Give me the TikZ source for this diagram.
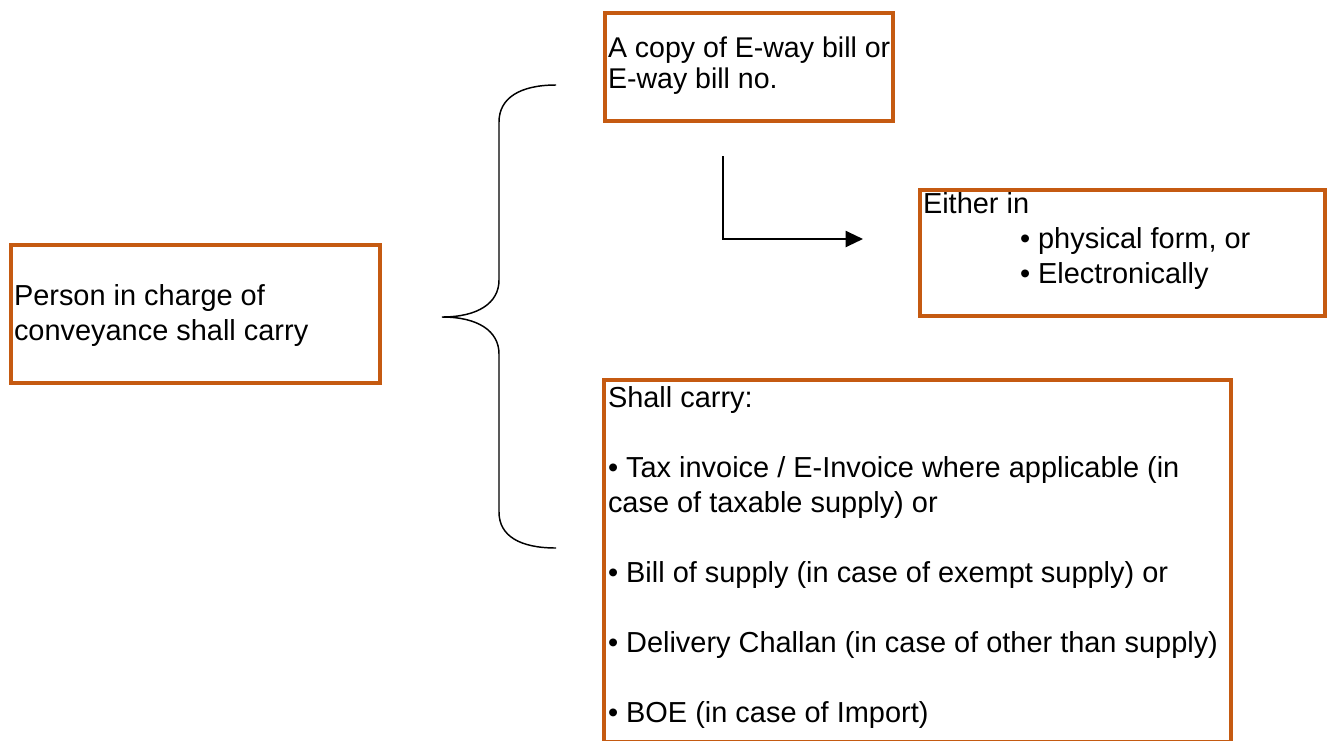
\documentclass[tikz,border=0pt]{standalone}
\usepackage{fontspec}
\setmainfont{Liberation Sans}
\usetikzlibrary{arrows.meta}
\definecolor{boxorange}{RGB}{197,90,17}
\begin{document}
\begin{tikzpicture}[x=0.75pt,y=-0.75pt,
  box/.style={draw=boxorange, line width=3pt, inner sep=0pt, outer sep=0pt, anchor=north west},
  txt/.style={anchor=base west, inner sep=0pt, outer sep=0pt, align=left,
              font=\fontsize{21.7}{26.25}\selectfont},
  bracepath/.style={draw=black, line width=1.1pt},
  arrowpath/.style={draw=black, line width=1.6pt, -{Triangle[length=13pt,width=12pt]}}]
\useasboundingbox (0,0) rectangle (1328,740);
\clip (0,0) rectangle (1328,740);
% boxes
\node[box, minimum width={368.5*0.75pt}, minimum height={137.5*0.75pt}] (person) at (11,245) {};
\node[box, minimum width={287.5*0.75pt}, minimum height={108.5*0.75pt}] (eway) at (605,12.5) {};
\node[box, minimum width={404.5*0.75pt}, minimum height={126*0.75pt}] (either) at (920,190) {};
\node[box, minimum width={627*0.75pt}, minimum height={362*0.75pt}] (shall) at (604,380) {};
% texts (base anchor = baseline of the last line)
\node[txt] (tperson) at (14,340) {Person in charge of\\conveyance shall carry};
\node[txt, font=\fontsize{21.4}{23.25}\selectfont] (teway) at (608,88) {A copy of E-way bill or\\E-way bill no.};
\node[txt] (teither) at (923,213) {Either in};
\node[txt] (tforms) at (1020,283) {\textbullet{} physical form, or\\\textbullet{} Electronically};
\node[txt] (tshall) at (608,722) {Shall carry:\\[26.25pt]%
\textbullet{} Tax invoice / E-Invoice where applicable (in\\%
case of taxable supply) or\\[26.25pt]%
\textbullet{} Bill of supply (in case of exempt supply) or\\[26.25pt]%
\textbullet{} Delivery Challan (in case of other than supply)\\[26.25pt]%
\textbullet{} BOE (in case of Import)};
% brace
\coordinate (btop) at (556,85);
\coordinate (btip) at (442,317);
\coordinate (bbot) at (556,548);
\draw[bracepath] (btop) .. controls (520,85) and (499,98) .. (499,122)
  -- (499,280) .. controls (499,303) and (478,317) .. (btip)
  .. controls (478,317) and (499,331) .. (499,354)
  -- (499,512) .. controls (499,536) and (520,548) .. (bbot);
% arrow
\coordinate (astart) at (723,156);
\coordinate (acorner) at (723,239);
\coordinate (aend) at (863,239);
\draw[arrowpath] (astart) -- (acorner) -- (aend);
\end{tikzpicture}
\end{document}
